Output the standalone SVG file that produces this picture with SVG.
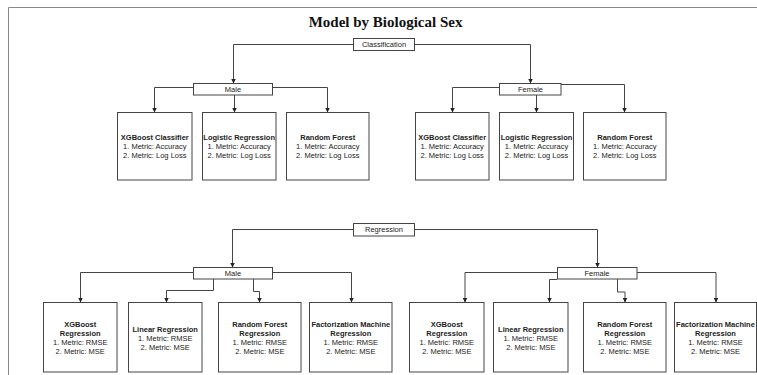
<svg xmlns="http://www.w3.org/2000/svg" width="757" height="375" viewBox="0 0 757 375">
<defs>
<marker id="ah" markerWidth="5" markerHeight="5" refX="4.5" refY="2.5" orient="auto" markerUnits="userSpaceOnUse">
<path d="M0,0 L5,2.5 L0,5 z" fill="#222"/>
</marker>
<style>
.box{fill:#fff;stroke:#444;stroke-width:1}
.t{font-family:"Liberation Sans",Arial,sans-serif;font-size:7.5px;fill:#222;text-anchor:middle}
.b{font-weight:bold}
.c{fill:none;stroke:#444;stroke-width:1;marker-end:url(#ah)}
.frame{fill:none;stroke:#888;stroke-width:1}
</style>
</defs>
<rect width="757" height="375" fill="#fff"/>
<path class="frame" d="M8.5,375 V7.5 H757"/>
<text x="385.5" y="27" font-family="'Liberation Serif','Times New Roman',serif" font-size="15" font-weight="bold" text-anchor="middle" fill="#111">Model by Biological Sex</text>

<g id="connectors">
<path class="c" d="M353,44.5 H233.5 V83"/>
<path class="c" d="M415,44.5 H530.5 V83"/>
<path class="c" d="M193,87.5 H154.5 V112"/>
<path class="c" d="M234.5,95 V112"/>
<path class="c" d="M273,87.5 H327.5 V112"/>
<path class="c" d="M499,87.5 H452.5 V112"/>
<path class="c" d="M536.5,95 V112"/>
<path class="c" d="M561,84.5 H624.5 V112"/>

<path class="c" d="M353,229.5 H232.5 V267"/>
<path class="c" d="M415,229.5 H597.5 V267"/>
<path class="c" d="M193,272.5 H80.5 V302"/>
<path class="c" d="M213.5,279 V290.5 H166.5 V302"/>
<path class="c" d="M253.5,279 V291.5 H259.5 V302"/>
<path class="c" d="M273,272.5 H351.5 V302"/>
<path class="c" d="M557,272.5 H465 V302"/>
<path class="c" d="M557,279.5 H549.5 V302"/>
<path class="c" d="M617.5,279 V292 H625 V302"/>
<path class="c" d="M637,272.5 H716 V302"/>
</g>

<g id="classification">
<rect class="box" x="353.5" y="38.5" width="61" height="12"/>
<text class="t" x="384" y="47.2">Classification</text>
</g>
<g id="c-male">
<rect class="box" x="193.5" y="83.5" width="79" height="11.5"/>
<text class="t" x="233" y="92">Male</text>
</g>
<g id="c-female">
<rect class="box" x="499.5" y="83.5" width="61.5" height="11.5"/>
<text class="t" x="530.5" y="92">Female</text>
</g>

<g id="c-m-xgb">
<rect class="box" x="117.5" y="112.5" width="74.5" height="67.5"/>
<text class="t b" x="154.8" y="139.5">XGBoost Classifier</text>
<text class="t" x="154.8" y="148.5">1. Metric: Accuracy</text>
<text class="t" x="154.8" y="157.5">2. Metric: Log Loss</text>
</g>
<g id="c-m-lr">
<rect class="box" x="202.5" y="112.5" width="73.5" height="67.5"/>
<text class="t b" x="239.2" y="139.5">Logistic Regression</text>
<text class="t" x="239.2" y="148.5">1. Metric: Accuracy</text>
<text class="t" x="239.2" y="157.5">2. Metric: Log Loss</text>
</g>
<g id="c-m-rf">
<rect class="box" x="286.5" y="112.5" width="82.5" height="67.5"/>
<text class="t b" x="327.8" y="139.5">Random Forest</text>
<text class="t" x="327.8" y="148.5">1. Metric: Accuracy</text>
<text class="t" x="327.8" y="157.5">2. Metric: Log Loss</text>
</g>
<g id="c-f-xgb">
<rect class="box" x="415.5" y="112.5" width="73.5" height="67.5"/>
<text class="t b" x="452.2" y="139.5">XGBoost Classifier</text>
<text class="t" x="452.2" y="148.5">1. Metric: Accuracy</text>
<text class="t" x="452.2" y="157.5">2. Metric: Log Loss</text>
</g>
<g id="c-f-lr">
<rect class="box" x="499.5" y="112.5" width="74" height="67.5"/>
<text class="t b" x="536.5" y="139.5">Logistic Regression</text>
<text class="t" x="536.5" y="148.5">1. Metric: Accuracy</text>
<text class="t" x="536.5" y="157.5">2. Metric: Log Loss</text>
</g>
<g id="c-f-rf">
<rect class="box" x="583.5" y="112.5" width="82.5" height="67.5"/>
<text class="t b" x="624.8" y="139.5">Random Forest</text>
<text class="t" x="624.8" y="148.5">1. Metric: Accuracy</text>
<text class="t" x="624.8" y="157.5">2. Metric: Log Loss</text>
</g>

<g id="regression">
<rect class="box" x="353.5" y="223.5" width="61" height="12.5"/>
<text class="t" x="384" y="232.3">Regression</text>
</g>
<g id="r-male">
<rect class="box" x="193.5" y="267.5" width="79" height="11.5"/>
<text class="t" x="233" y="276">Male</text>
</g>
<g id="r-female">
<rect class="box" x="557.5" y="267.5" width="79.5" height="11.5"/>
<text class="t" x="597" y="276">Female</text>
</g>

<g id="r-m-xgb">
<rect class="box" x="43.5" y="302.5" width="73.5" height="69.5"/>
<text class="t b" x="80.2" y="327">XGBoost</text>
<text class="t b" x="80.2" y="336">Regression</text>
<text class="t" x="80.2" y="345">1. Metric: RMSE</text>
<text class="t" x="80.2" y="354">2. Metric: MSE</text>
</g>
<g id="r-m-lin">
<rect class="box" x="128.5" y="302.5" width="73.5" height="69.5"/>
<text class="t b" x="165.2" y="331.5">Linear Regression</text>
<text class="t" x="165.2" y="340.5">1. Metric: RMSE</text>
<text class="t" x="165.2" y="349.5">2. Metric: MSE</text>
</g>
<g id="r-m-rf">
<rect class="box" x="218.5" y="302.5" width="82.5" height="69.5"/>
<text class="t b" x="259.8" y="327">Random Forest</text>
<text class="t b" x="259.8" y="336">Regression</text>
<text class="t" x="259.8" y="345">1. Metric: RMSE</text>
<text class="t" x="259.8" y="354">2. Metric: MSE</text>
</g>
<g id="r-m-fm">
<rect class="box" x="309.5" y="302.5" width="82.5" height="69.5"/>
<text class="t b" x="350.8" y="327">Factorization Machine</text>
<text class="t b" x="350.8" y="336">Regression</text>
<text class="t" x="350.8" y="345">1. Metric: RMSE</text>
<text class="t" x="350.8" y="354">2. Metric: MSE</text>
</g>
<g id="r-f-xgb">
<rect class="box" x="409.5" y="302.5" width="74.5" height="69.5"/>
<text class="t b" x="446.8" y="327">XGBoost</text>
<text class="t b" x="446.8" y="336">Regression</text>
<text class="t" x="446.8" y="345">1. Metric: RMSE</text>
<text class="t" x="446.8" y="354">2. Metric: MSE</text>
</g>
<g id="r-f-lin">
<rect class="box" x="493.5" y="302.5" width="74.5" height="69.5"/>
<text class="t b" x="530.8" y="331.5">Linear Regression</text>
<text class="t" x="530.8" y="340.5">1. Metric: RMSE</text>
<text class="t" x="530.8" y="349.5">2. Metric: MSE</text>
</g>
<g id="r-f-rf">
<rect class="box" x="583.5" y="302.5" width="82.5" height="69.5"/>
<text class="t b" x="624.8" y="327">Random Forest</text>
<text class="t b" x="624.8" y="336">Regression</text>
<text class="t" x="624.8" y="345">1. Metric: RMSE</text>
<text class="t" x="624.8" y="354">2. Metric: MSE</text>
</g>
<g id="r-f-fm">
<rect class="box" x="674.5" y="302.5" width="82" height="69.5"/>
<text class="t b" x="715.5" y="327">Factorization Machine</text>
<text class="t b" x="715.5" y="336">Regression</text>
<text class="t" x="715.5" y="345">1. Metric: RMSE</text>
<text class="t" x="715.5" y="354">2. Metric: MSE</text>
</g>
</svg>
